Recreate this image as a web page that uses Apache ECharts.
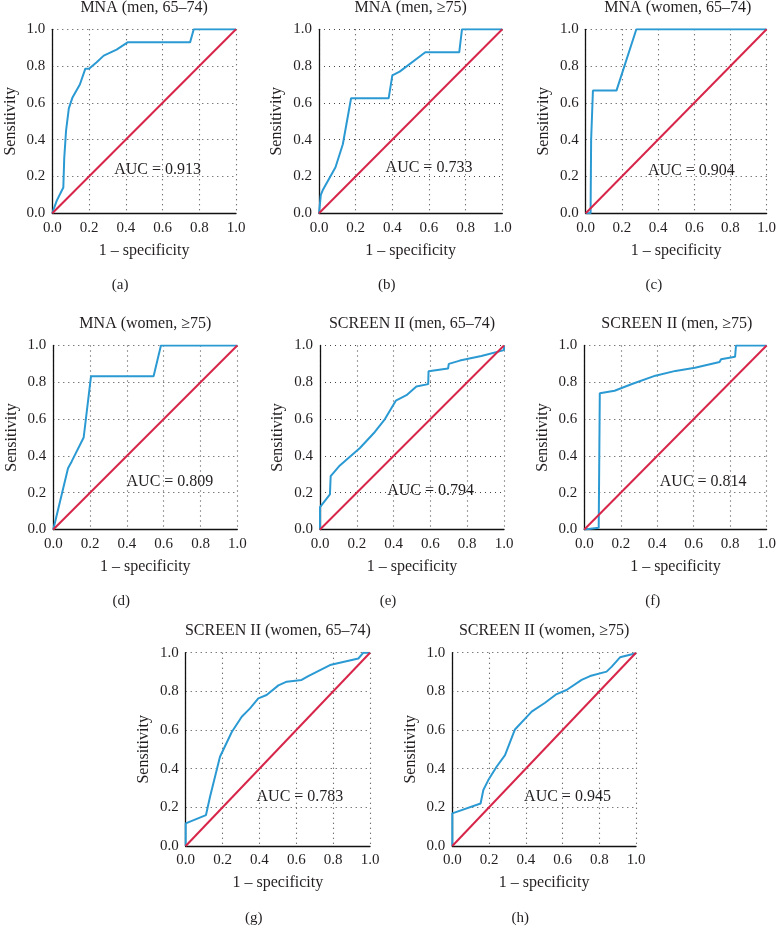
<!DOCTYPE html>
<html>
<head>
<meta charset="utf-8">
<script src="https://cdn.jsdelivr.net/npm/echarts@6/dist/echarts.min.js"></script>
<style>html,body{margin:0;padding:0;background:#fff}#c{width:779px;height:940px}</style>
</head>
<body>
<div id="c"></div>
<script>
// ---- data ----
const titles = ['MNA (men, 65–74)', 'MNA (men, ≥75)', 'MNA (women, 65–74)', 'MNA (women, ≥75)',
  'SCREEN II (men, 65–74)', 'SCREEN II (men, ≥75)', 'SCREEN II (women, 65–74)', 'SCREEN II (women, ≥75)'];
const panelLabels = ['(a)', '(b)', '(c)', '(d)', '(e)', '(f)', '(g)', '(h)'];
const aucTexts = ['AUC = 0.913', 'AUC = 0.733', 'AUC = 0.904', 'AUC = 0.809', 'AUC = 0.794', 'AUC = 0.814', 'AUC = 0.783', 'AUC = 0.945'];
const aucX = [0.573, 0.60, 0.584, 0.634, 0.601, 0.652, 0.62, 0.627];
const aucY = [0.235, 0.245, 0.232, 0.257, 0.208, 0.259, 0.255, 0.255];
const tickValues = [0, 0.2, 0.4, 0.6, 0.8, 1.0];
const xAxisName = '1 – specificity';
const yAxisName = 'Sensitivity';

const aX = [0, 0.01, 0.025, 0.06, 0.065, 0.075, 0.09, 0.11, 0.15, 0.18, 0.2, 0.21, 0.24, 0.28, 0.35, 0.41, 0.75, 0.77, 1.0];
const aY = [0, 0.03, 0.07, 0.14, 0.3, 0.45, 0.57, 0.63, 0.7, 0.786, 0.786, 0.79, 0.82, 0.857, 0.89, 0.929, 0.929, 1.0, 1.0];
const bX = [0, 0.01, 0.02, 0.09, 0.13, 0.175, 0.38, 0.4, 0.44, 0.58, 0.765, 0.78, 1.0];
const bY = [0, 0.1, 0.125, 0.25, 0.375, 0.625, 0.625, 0.75, 0.77, 0.875, 0.875, 1.0, 1.0];
const cX = [0, 0.027, 0.03, 0.04, 0.17, 0.28, 1.0];
const cY = [0, 0, 0.4, 0.667, 0.667, 1.0, 1.0];
const dX = [0, 0.08, 0.1, 0.165, 0.205, 0.545, 0.585, 1.0];
const dY = [0, 0.333, 0.37, 0.5, 0.833, 0.833, 1.0, 1.0];
const eX = [0, 0, 0.054, 0.058, 0.108, 0.217, 0.298, 0.353, 0.412, 0.47, 0.524, 0.588, 0.59, 0.696, 0.70, 0.76, 0.877, 1.0, 1.0];
const eY = [0, 0.122, 0.191, 0.29, 0.348, 0.443, 0.53, 0.60, 0.70, 0.73, 0.777, 0.79, 0.86, 0.875, 0.90, 0.918, 0.943, 0.975, 1.0];
const fX = [0, 0.079, 0.085, 0.166, 0.265, 0.39, 0.5, 0.607, 0.742, 0.75, 0.827, 0.832, 1.0];
const fY = [0, 0.009, 0.74, 0.754, 0.792, 0.836, 0.862, 0.879, 0.91, 0.925, 0.939, 1.0, 1.0];
const gX = [0, 0, 0.11, 0.132, 0.186, 0.25, 0.304, 0.349, 0.394, 0.439, 0.503, 0.548, 0.629, 0.665, 0.783, 0.937, 0.964, 1.0];
const gY = [0, 0.117, 0.16, 0.255, 0.462, 0.59, 0.669, 0.712, 0.764, 0.781, 0.831, 0.85, 0.859, 0.879, 0.936, 0.97, 1.0, 1.0];
const hX = [0, 0, 0.154, 0.169, 0.196, 0.241, 0.287, 0.341, 0.432, 0.505, 0.568, 0.622, 0.704, 0.75, 0.84, 0.868, 0.913, 1.0];
const hY = [0, 0.169, 0.22, 0.29, 0.341, 0.41, 0.47, 0.603, 0.695, 0.741, 0.786, 0.807, 0.859, 0.879, 0.902, 0.928, 0.976, 0.997];
const diagX = [0, 1];
const diagY = [0, 1];

const curvesX = [aX, bX, cX, dX, eX, fX, gX, hX];
const curvesY = [aY, bY, cY, dY, eY, fY, gY, hY];

// ---- layout ----
const grids = [
  {left: 52.3, top: 29.3, width: 183.7, height: 184},
  {left: 319, top: 29.3, width: 183.3, height: 184},
  {left: 585.7, top: 29.3, width: 184.3, height: 184},
  {left: 53.3, top: 345.5, width: 184, height: 184},
  {left: 320, top: 345.5, width: 184, height: 184},
  {left: 584.3, top: 345.5, width: 185, height: 184},
  {left: 185.7, top: 652.7, width: 184.3, height: 193.3},
  {left: 452.3, top: 652.7, width: 183.7, height: 193.3}
];
const FONT = '"Liberation Serif", "DejaVu Serif", serif';
const TXT = '#231f20';
const BLUE = '#2b9ad3';
const RED = '#d7264a';

const pair = (xs, ys) => xs.map((x, i) => [x, ys[i]]);

const option = {
  animation: false,
  backgroundColor: '#fff',
  grid: grids.map(g => Object.assign({containLabel: false}, g)),
  xAxis: grids.map((g, i) => ({
    gridIndex: i, type: 'value', min: 0, max: 1, interval: 0.2,
    name: xAxisName, nameLocation: 'middle', nameGap: 29,
    nameTextStyle: {fontFamily: FONT, fontSize: 16, color: TXT},
    axisLine: {show: true, onZero: false, lineStyle: {color: '#111', width: 1.3}},
    axisTick: {show: false},
    axisLabel: {fontFamily: FONT, fontSize: 15, color: TXT, margin: 7, formatter: v => v.toFixed(1)},
    splitLine: {show: true, lineStyle: {color: '#444', width: 1.1, type: [1, 4]}}
  })),
  yAxis: grids.map((g, i) => ({
    gridIndex: i, type: 'value', min: 0, max: 1, interval: 0.2,
    name: yAxisName, nameLocation: 'middle', nameGap: 34,
    nameTextStyle: {fontFamily: FONT, fontSize: 16, color: TXT},
    axisLine: {show: true, onZero: false, lineStyle: {color: '#111', width: 1.3}},
    axisTick: {show: false},
    axisLabel: {fontFamily: FONT, fontSize: 15, color: TXT, margin: 7, formatter: v => v.toFixed(1)},
    splitLine: {show: true, lineStyle: {color: '#444', width: 1.1, type: [1, 4]}}
  })),
  series: [],
  graphic: []
};

grids.forEach((g, i) => {
  option.series.push({
    type: 'line', xAxisIndex: i, yAxisIndex: i, data: pair(curvesX[i], curvesY[i]),
    showSymbol: false, symbol: 'none', lineStyle: {color: BLUE, width: 2}, z: 3
  });
  option.series.push({
    type: 'line', xAxisIndex: i, yAxisIndex: i, data: pair(diagX, diagY),
    showSymbol: false, symbol: 'none', lineStyle: {color: RED, width: 2}, z: 4
  });
  const cx = g.left + g.width / 2;
  option.graphic.push({
    type: 'text', x: cx, y: g.top - 22,
    style: {text: titles[i], font: '16px ' + FONT, fill: TXT, textAlign: 'center', textVerticalAlign: 'middle', align: 'center', verticalAlign: 'middle'}
  });
  option.graphic.push({
    type: 'text', x: cx - 24, y: g.top + g.height + 72,
    style: {text: panelLabels[i], font: '15px ' + FONT, fill: TXT, textAlign: 'center', textVerticalAlign: 'middle', align: 'center', verticalAlign: 'middle'}
  });
});

const chart = echarts.init(document.getElementById('c'), null, {renderer: 'canvas'});
chart.setOption(option);

// AUC annotations placed through each panel's own axes
const aucGraphics = grids.map((g, i) => {
  const p = chart.convertToPixel({xAxisIndex: i, yAxisIndex: i}, [aucX[i], aucY[i]]);
  return {
    type: 'text', x: p[0], y: p[1], z: 10,
    style: {text: aucTexts[i], font: '16px ' + FONT, fill: TXT, textAlign: 'center', textVerticalAlign: 'middle', align: 'center', verticalAlign: 'middle'}
  };
});
chart.setOption({graphic: option.graphic.concat(aucGraphics)});
</script>
</body>
</html>
